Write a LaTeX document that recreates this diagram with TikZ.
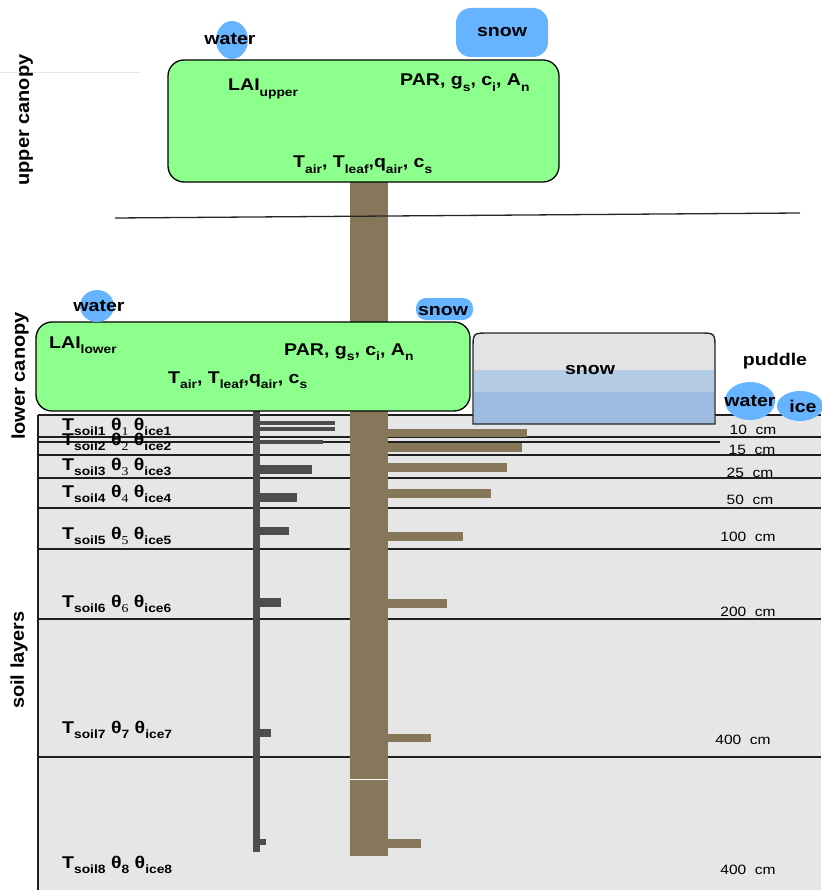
\documentclass[tikz,border=0pt]{standalone}
\usepackage{fontspec}
\usepackage{graphicx}
\setmainfont[FakeStretch=1.15]{Liberation Sans}
\newfontfamily\sidefont[FakeStretch=1.08]{Liberation Sans}
\newfontfamily\digfont[FakeStretch=1.15]{Liberation Serif}
\usetikzlibrary{shapes.geometric}

\definecolor{leafgreen}{HTML}{8CFF8C}
\definecolor{stembrown}{HTML}{86765A}
\definecolor{rootgray}{HTML}{4D4D4D}
\definecolor{soilgray}{HTML}{E6E6E6}
\definecolor{dropblue}{HTML}{66B3FF}
\definecolor{packtop}{HTML}{E3E3E3}
\definecolor{packmid}{HTML}{B4CDE5}
\definecolor{packlow}{HTML}{9DBBE0}

\newcommand\dn[1]{\raisebox{-0.3em}{\fontsize{12}{12}\selectfont #1}}

\tikzset{
  lbl/.style={font=\bfseries\fontsize{17}{20}\selectfont, inner sep=0pt},
  depthlbl/.style={font=\fontsize{13.5}{16}\selectfont, inner sep=0pt},
  sidelbl/.style={font=\sidefont\bfseries\fontsize{18.5}{20}\selectfont, rotate=90, inner sep=0pt},
  canopy/.style={draw=black, line width=1.3pt, fill=leafgreen, rounded corners=16pt},
  layerline/.style={draw=black!88, line width=1.8pt},
  drop/.style={fill=dropblue},
}

\begin{document}
\begin{tikzpicture}[x=1pt,y=-1pt]
    \useasboundingbox (0,0) rectangle (821,890);

    % soil
    \fill[soilgray] (38,415) rectangle (821,890);
    \draw[black!88, line width=1.5pt] (38,415) -- (38,890);
    \foreach \y in {415,437,455,478,508,549,619,757}
        \draw[layerline] (38,\y) -- (821,\y);
    \draw[black!88, line width=1.2pt] (37,442) -- (720,442);

    % roots
    \fill[rootgray] (253,411) rectangle (260,852);
    \foreach \ya/\yb/\len in {421/425/335,427/431/335,440/444/323,465/474/312,493/502/297,527/535/289,598/607/281,729/737/271,839/845/266}
        \fill[rootgray] (260,\ya) rectangle (\len,\yb);

    % trunk
    \fill[stembrown] (350,182) rectangle (388,856);
    \draw[white, line width=1pt] (350,779) -- (388,779);
    \foreach \ya/\yb/\len in {429/437/527,443/452/522,463/472/507,489/498/491,532/541/463,599/608/447,734/742/431,839/848/421}
        \fill[stembrown] (388,\ya) rectangle (\len,\yb);

    % canopy
    \draw[black!10, line width=1pt] (0,73) -- (140,73);
    \draw[black!85, line width=1.3pt] (115,218) -- (800,213);
    \draw[canopy] (168,60) rectangle (559,182);
    \draw[canopy] (36,322) rectangle (470,411);

    % snow pack
    \fill[packtop] (473,424) -- (473,349) .. controls (473,333) .. (489,333) -- (699,333) .. controls (715,333) .. (715,349) -- (715,424) -- cycle;
    \fill[packmid] (474,370) rectangle (714,392);
    \fill[packlow] (474,392) rectangle (714,424);
    \draw[black!85, line width=1.4pt] (473,424) -- (473,349) .. controls (473,333) .. (489,333) -- (699,333) .. controls (715,333) .. (715,349) -- (715,424) -- cycle;

    % water and snow stores
    \fill[drop] (232,40) ellipse [x radius=16pt, y radius=19pt];
    \fill[drop, rounded corners=15pt] (456,8) rectangle (548,57);
    \fill[drop] (97,306) ellipse [x radius=17pt, y radius=16pt];
    \fill[drop, rounded corners=10pt] (416,298) rectangle (473,320);
    \fill[drop] (750,401) ellipse [x radius=25pt, y radius=19pt];
    \fill[drop] (800,406) ellipse [x radius=23pt, y radius=15pt];

    \node[lbl, anchor=base] (waterup) at (230,45) {water};
    \node[lbl, anchor=base] (snowup) at (502,37) {snow};
    \node[lbl, anchor=base] (waterdn) at (99,311) {water};
    \node[lbl, anchor=base] (snowdn) at (443,315) {snow};
    \node[lbl, anchor=base] (snowpack) at (590,374) {snow};
    \node[lbl, anchor=base] (puddle) at (775,365) {puddle};
    \node[lbl, anchor=base] (puddlewater) at (750,406) {water};
    \node[lbl, anchor=base] (puddleice) at (803,412) {ice};

    % canopy variables
    \node[lbl, anchor=base west] (laiup) at (228,91) {LAI\dn{upper}};
    \node[lbl, anchor=base west] (parup) at (400,86) {PAR, g\dn{s}, c\dn{i}, A\dn{n}};
    \node[lbl, anchor=base west] (tairup) at (293,168) {T\dn{air}, T\dn{leaf},q\dn{air}, c\dn{s}};
    \node[lbl, anchor=base west] (laidn) at (49,348) {LAI\dn{lower}};
    \node[lbl, anchor=base west] (pardn) at (284,355) {PAR, g\dn{s}, c\dn{i}, A\dn{n}};
    \node[lbl, anchor=base west] (tairdn) at (168,383) {T\dn{air}, T\dn{leaf},q\dn{air}, c\dn{s}};

    % soil variables
    \node[lbl, anchor=base west] (soil1) at (62,430) {T\dn{soil1} θ\dn{\digfont\mdseries 1} θ\dn{ice1}};
    \node[lbl, anchor=base west] (soil2) at (62,445) {T\dn{soil2} θ\dn{\digfont\mdseries 2} θ\dn{ice2}};
    \node[lbl, anchor=base west] (soil3) at (62,470) {T\dn{soil3} θ\dn{\digfont\mdseries 3} θ\dn{ice3}};
    \node[lbl, anchor=base west] (soil4) at (62,497) {T\dn{soil4} θ\dn{\digfont\mdseries 4} θ\dn{ice4}};
    \node[lbl, anchor=base west] (soil5) at (62,539) {T\dn{soil5} θ\dn{\digfont\mdseries 5} θ\dn{ice5}};
    \node[lbl, anchor=base west] (soil6) at (62,607) {T\dn{soil6} θ\dn{\digfont\mdseries 6} θ\dn{ice6}};
    \node[lbl, anchor=base west] (soil7) at (62,733) {T\dn{soil7} θ\dn{7} θ\dn{ice7}};
    \node[lbl, anchor=base west] (soil8) at (62,868) {T\dn{soil8} θ\dn{8} θ\dn{ice8}};

    % depths
    \node[depthlbl, anchor=base] (d1) at (753,434) {10\ \ cm};
    \node[depthlbl, anchor=base] (d2) at (752,454) {15\ \ cm};
    \node[depthlbl, anchor=base] (d3) at (750,477) {25\ \ cm};
    \node[depthlbl, anchor=base] (d4) at (750,504) {50\ \ cm};
    \node[depthlbl, anchor=base] (d5) at (748,541) {100\ \ cm};
    \node[depthlbl, anchor=base] (d6) at (748,616) {200\ \ cm};
    \node[depthlbl, anchor=base] (d7) at (743,744) {400\ \ cm};
    \node[depthlbl, anchor=base] (d8) at (748,874) {400\ \ cm};

    % layer names
    \node[sidelbl] (upcan) at (26,120) {upper canopy};
    \node[sidelbl] (lowcan) at (20,376) {lower canopy};
    \node[sidelbl] (soillay) at (19,660) {soil layers};
\end{tikzpicture}
\end{document}
